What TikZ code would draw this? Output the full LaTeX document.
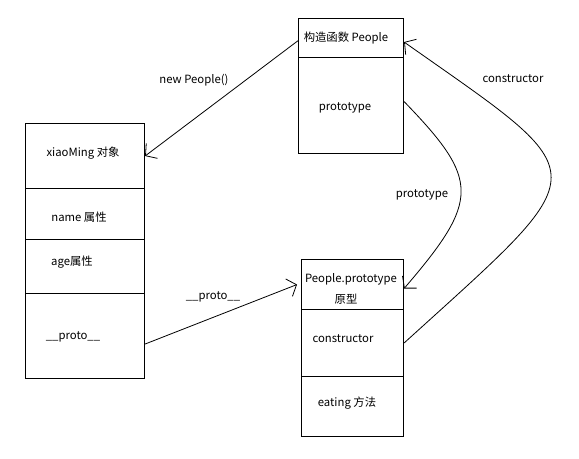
\documentclass[tikz,border=0pt]{standalone}
\usepackage{fontspec}
\setmainfont{Noto Sans CJK SC}
\usetikzlibrary{arrows.meta}

\begin{document}
\begin{tikzpicture}[x=0.75pt,y=-0.75pt]
    \tikzset{cell/.style = {shape=rectangle,draw,line width=0.8pt,anchor=north west,inner sep=0pt,minimum width=#1}}
    \tikzset{txt/.style = {font=\fontsize{8.5}{10}\selectfont,inner sep=1pt}}
    \tikzset{edge/.style = {-{Straight Barb[length=6pt,width=14pt]},line width=0.6pt}}
    \useasboundingbox (0,0) rectangle (579,458);
    % xiaoMing object
    \node[cell=89.25pt,minimum height=48.75pt] (obj) at (25,123) {};
    \node[cell=89.25pt,minimum height=38.25pt] (name) at (25,188) {};
    \node[cell=89.25pt,minimum height=40.5pt] (age) at (25,239) {};
    \node[cell=89.25pt,minimum height=63.75pt] (proto) at (25,293) {};
    % constructor People
    \node[cell=78.75pt,minimum height=29.25pt] (ctor) at (298,18) {};
    \node[cell=78.75pt,minimum height=72pt] (ptype) at (298,57) {};
    % People.prototype
    \node[cell=76.5pt,minimum height=37.5pt] (pp) at (301,259) {};
    \node[cell=76.5pt,minimum height=50.25pt] (pcons) at (301,309) {};
    \node[cell=76.5pt,minimum height=45pt] (eat) at (301,376) {};
    % texts
    \node[txt] (t1) at (83,153) {xiaoMing 对象};
    \node[txt] (t2) at (79,217) {name 属性};
    \node[txt] (t3) at (72,262) {age属性};
    \node[txt] (t4) at (73,337) {\_\_proto\_\_};
    \node[txt] (t5) at (346,38) {构造函数 People};
    \node[txt] (t6) at (345,108) {prototype};
    \node[txt] (t7) at (351,279) {People.prototype};
    \node[txt] (t8) at (346,299) {原型};
    \node[txt] (t9) at (343,339) {constructor};
    \node[txt] (t10) at (347,403) {eating 方法};
    %edges
    \draw[edge] ([yshift=-2pt]ctor.west) -- (obj.east);
    \draw[edge] ([yshift=-6pt]proto.east) -- ([xshift=-3pt]pp.west);
    \draw[edge] ([yshift=3pt]ptype.east) .. controls (480,180) and (480,200) .. ([yshift=-3pt]pp.east);
    \draw[edge] (pcons.east) .. controls (600,165) and (600,180) .. ([yshift=-3pt]ctor.east);
    % edge labels
    \node[txt] (l1) at (194,80) {new People()};
    \node[txt] (l2) at (213,297) {\_\_proto\_\_};
    \node[txt] (l3) at (422,195) {prototype};
    \node[txt] (l4) at (513,79) {constructor};
\end{tikzpicture}
\end{document}
